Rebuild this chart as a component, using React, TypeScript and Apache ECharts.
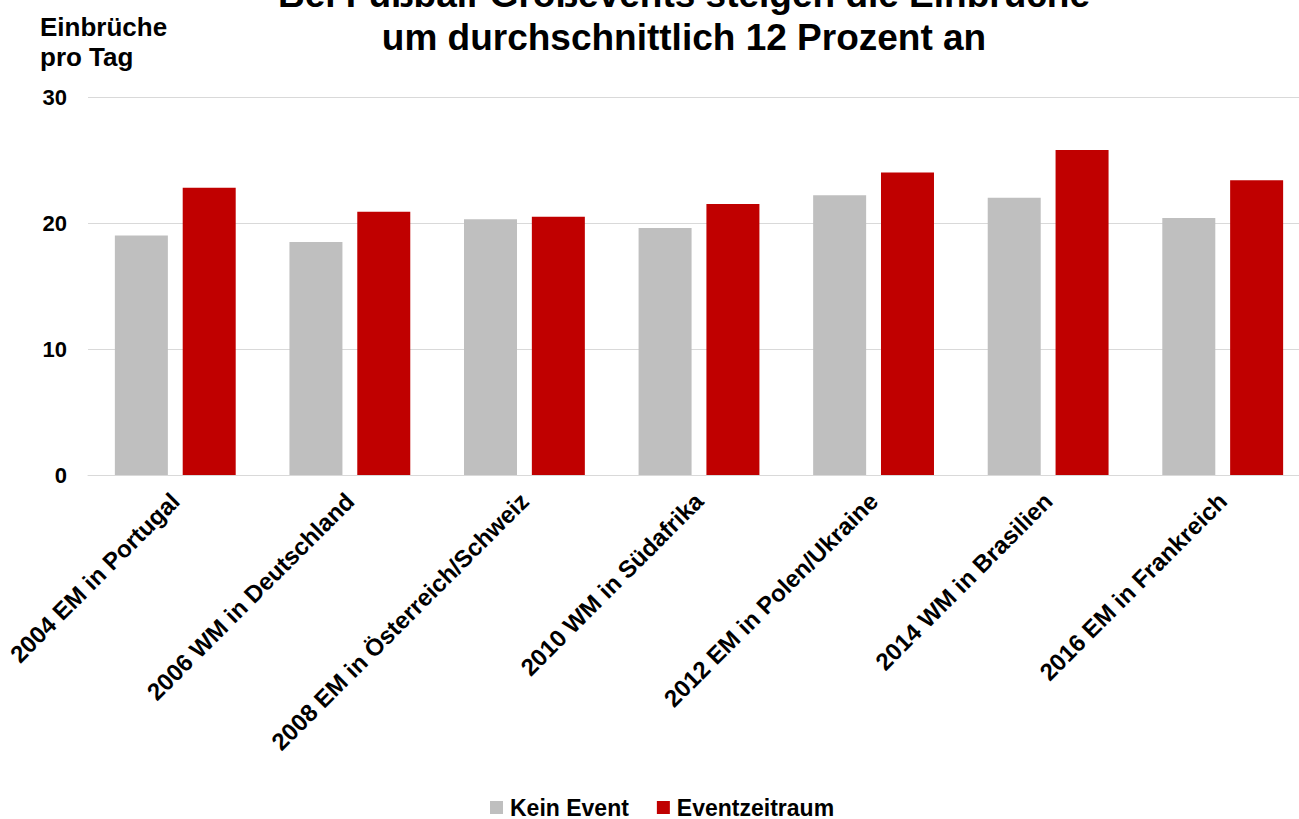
import React, { useEffect, useRef } from "react";
import * as echarts from "echarts";

const categories = [
  "2004 EM in Portugal",
  "2006 WM in Deutschland",
  "2008 EM in Österreich/Schweiz",
  "2010 WM in Südafrika",
  "2012 EM in Polen/Ukraine",
  "2014 WM in Brasilien",
  "2016 EM in Frankreich",
];
const keinEvent = [19.0, 18.5, 20.3, 19.6, 22.2, 22.0, 20.4];
const eventzeitraum = [22.8, 20.9, 20.5, 21.5, 24.0, 25.8, 23.4];
const seriesNames = ["Kein Event", "Eventzeitraum"];
const titleText = "Bei Fußball-Großevents steigen die Einbrüche\num durchschnittlich 12 Prozent an";
const yAxisTitle = "Einbrüche\npro Tag";

const FONT = "'Liberation Sans', Arial, sans-serif";

export default function App() {
  const ref = useRef<HTMLDivElement>(null);
  useEffect(() => {
    if (!ref.current) return;
    const chart = echarts.init(ref.current, undefined, { renderer: "svg" });
    chart.setOption({
      animation: false,
      backgroundColor: "#ffffff",
      textStyle: { fontFamily: FONT },
      graphic: [
        {
          type: "text",
          x: 684,
          y: -27,
          style: {
            text: titleText,
            textAlign: "center",
            textVerticalAlign: "top",
            font: `bold 37px ${FONT}`,
            lineHeight: 43,
            fill: "#000000",
          },
        },
        {
          type: "text",
          x: 40,
          y: 12,
          style: {
            text: yAxisTitle,
            textAlign: "left",
            textVerticalAlign: "top",
            font: `bold 26px ${FONT}`,
            lineHeight: 30,
            fill: "#000000",
          },
        },
      ],
      legend: {
        data: seriesNames,
        top: 791,
        left: 485,
        itemWidth: 13,
        itemHeight: 13,
        itemGap: 28,
        icon: "rect",
        textStyle: { fontFamily: FONT, fontSize: 23, fontWeight: "bold", color: "#000000", padding: [0, 0, 0, 2] },
      },
      grid: { left: 88, right: 0, top: 97, bottom: 344, containLabel: false },
      xAxis: {
        type: "category",
        data: categories,
        axisLine: { show: true, lineStyle: { color: "#d9d9d9", width: 1 } },
        axisTick: { show: false },
        axisLabel: {
          rotate: 45,
          interval: 0,
          margin: 22,
          fontFamily: FONT,
          fontSize: 24,
          fontWeight: "bold",
          color: "#000000",
        },
      },
      yAxis: {
        type: "value",
        min: 0,
        max: 30,
        interval: 10,
        axisLine: { show: false },
        axisTick: { show: false },
        splitLine: { lineStyle: { color: "#d9d9d9", width: 1 } },
        axisLabel: {
          margin: 21,
          fontFamily: FONT,
          fontSize: 22,
          fontWeight: "bold",
          color: "#000000",
        },
      },
      series: [
        {
          name: seriesNames[0],
          type: "bar",
          data: keinEvent,
          barWidth: 53,
          barGap: "28%",
          itemStyle: { color: "#bfbfbf" },
        },
        {
          name: seriesNames[1],
          type: "bar",
          data: eventzeitraum,
          barWidth: 53,
          itemStyle: { color: "#c00000" },
        },
      ],
    });
    return () => chart.dispose();
  }, []);
  return (
    <div
      style={{ position: "absolute", left: 0, top: 0, width: 1299, height: 819, overflow: "hidden" }}
    >
      <div ref={ref} style={{ width: 1310, height: 819 }} />
    </div>
  );
}
